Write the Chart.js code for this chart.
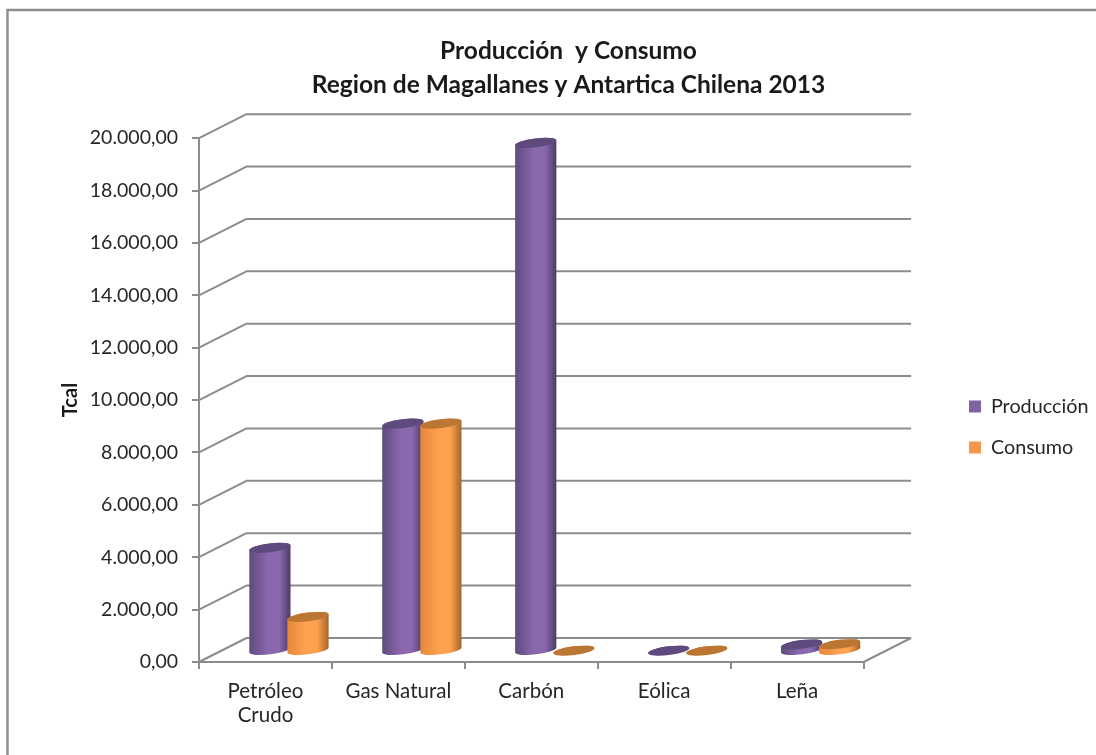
<!DOCTYPE html>
<html lang="es">
<head>
<meta charset="utf-8">
<title>Producción y Consumo</title>
<script src="https://cdn.jsdelivr.net/npm/chart.js@4/dist/chart.umd.min.js"></script>
<style>
  html, body { margin: 0; padding: 0; background: #fff; }
  canvas { display: block; }
</style>
</head>
<body>
<canvas id="chart" width="1096" height="755"></canvas>
<script>
// Energy balance for the region, in Tcal
const categories = [["Petróleo", "Crudo"], "Gas Natural", "Carbón", "Eólica", "Leña"];
const produccion = [3940, 8680, 19400, 10, 250];
const consumo = [1300, 8680, 10, 10, 260];
const tickLabels = ["0,00", "2.000,00", "4.000,00", "6.000,00", "8.000,00", "10.000,00",
                    "12.000,00", "14.000,00", "16.000,00", "18.000,00", "20.000,00"];
const titleLines = ["Producción  y Consumo", "Region de Magallanes y Antartica Chilena 2013"];

const FONT = "Lato";
const TEXT = "#262626";
const RULE = "#8c8c8c";
const DEPTH_X = 47.5, DEPTH_Y = -24;          // depth of the 3D box
const BAR_DX = 23.5, BAR_DY = -11;            // bars stand mid-way along the floor
const CAP_RY = 4.4, CAP_TILT = -7 * Math.PI / 180;

// Shade stops for each series: edge, highlight, far edge, top face
const shades = {
  "#8064a2": ["#5f4a7e", "#8a68ae", "#4c3a66", "#5f4a7e"],
  "#f79646": ["#e5873b", "#ffa14e", "#a4652c", "#bc7634"]
};

// Bars render as tilted cylinders in place of flat rectangles
Chart.BarElement.prototype.draw = function (ctx) {
  const { x, y, base, width } = this.getProps(["x", "y", "base", "width"], false);
  const tones = shades[this.options.backgroundColor.toLowerCase()];
  const r = width / 2;
  const ex = r * Math.cos(CAP_TILT), ey = r * Math.sin(CAP_TILT);

  ctx.save();
  const g = ctx.createLinearGradient(x - r, 0, x + r, 0);
  g.addColorStop(0, tones[0]);
  g.addColorStop(0.45, tones[1]);
  g.addColorStop(0.72, tones[1]);
  g.addColorStop(1, tones[2]);
  ctx.fillStyle = g;
  ctx.beginPath();
  ctx.moveTo(x - ex, y - ey);
  ctx.lineTo(x - ex, base - ey);
  ctx.ellipse(x, base, r, CAP_RY, CAP_TILT, Math.PI, 0, true);
  ctx.lineTo(x + ex, y + ey);
  ctx.ellipse(x, y, r, CAP_RY, CAP_TILT, 0, Math.PI, true);
  ctx.closePath();
  ctx.fill();

  ctx.fillStyle = tones[3];
  ctx.beginPath();
  ctx.ellipse(x, y, r, CAP_RY, CAP_TILT, 0, Math.PI * 2);
  ctx.fill();
  ctx.restore();
};

const box3d = {
  id: "box3d",
  // Title and legend sit at fixed spots next to the plot
  afterLayout(chart) {
    const t = chart.titleBlock;
    const th = t.bottom - t.top;
    t.left = 41; t.right = 1096; t.top = 35; t.bottom = 35 + th;
    const l = chart.legend;
    const pad = l.options.labels.padding;
    const h = l.bottom - l.top;
    l.left = 969 - pad; l.right = l.left + l.width;
    l.top = 427 - h / 2; l.bottom = l.top + h;
  },
  beforeDraw(chart) {
    const { ctx, chartArea: a, scales: { y } } = chart;
    ctx.save();
    ctx.strokeStyle = RULE;

    // outer frame
    ctx.lineWidth = 2.4;
    ctx.beginPath();
    ctx.moveTo(7.5, 755); ctx.lineTo(7.5, 10); ctx.lineTo(1096, 10);
    ctx.stroke();

    // side wall and back wall rules at each tick
    ctx.lineWidth = 2;
    ctx.lineJoin = "round";
    y.ticks.forEach(t => {
      const py = y.getPixelForValue(t.value);
      ctx.beginPath();
      ctx.moveTo(a.left, py);
      ctx.lineTo(a.left + DEPTH_X, py + DEPTH_Y);
      ctx.lineTo(a.right + DEPTH_X, py + DEPTH_Y);
      ctx.stroke();
    });

    // floor edge on the right
    const floor = y.getPixelForValue(0);
    ctx.beginPath();
    ctx.moveTo(a.right, floor);
    ctx.lineTo(a.right + DEPTH_X, floor + DEPTH_Y);
    ctx.stroke();
    ctx.restore();
  },
  // Datasets are painted left to right so each series overlaps the previous one
  beforeDatasetDraw() { return false; },
  afterDatasetsDraw(chart) {
    const { ctx } = chart;
    ctx.save();
    ctx.translate(BAR_DX, BAR_DY);
    chart.getSortedVisibleDatasetMetas().forEach(m => m.controller.draw());
    ctx.restore();
  }
};

new Chart(document.getElementById("chart"), {
  type: "bar",
  data: {
    labels: categories,
    datasets: [
      { label: "Producción", data: produccion, backgroundColor: "#8064A2" },
      { label: "Consumo", data: consumo, backgroundColor: "#F79646" }
    ]
  },
  plugins: [box3d],
  options: {
    responsive: false,
    animation: false,
    events: [],
    categoryPercentage: 0.573,
    barPercentage: 1.09,
    layout: { padding: { top: 72, right: 82, bottom: 0, left: 0 } },
    plugins: {
      title: {
        display: true,
        text: titleLines,
        color: "#1a1a1a",
        font: { family: FONT, size: 24.5, weight: "bold", lineHeight: 1.35 },
        padding: 0
      },
      legend: {
        position: "right",
        labels: {
          color: TEXT,
          font: { family: FONT, size: 19.8, lineHeight: 1.2 },
          boxWidth: 12, boxHeight: 12,
          padding: 21
        }
      },
      tooltip: { enabled: false }
    },
    scales: {
      x: {
        afterFit(s) { s.height = 93; },
        border: { color: RULE, width: 2 },
        grid: { drawOnChartArea: false, color: RULE, lineWidth: 2, tickLength: 7 },
        ticks: { color: TEXT, font: { family: FONT, size: 20.5, lineHeight: 1.17 }, padding: 10, maxRotation: 0 }
      },
      y: {
        min: 0, max: 20000,
        afterFit(s) { s.width = 199; },
        border: { color: RULE, width: 2 },
        grid: { drawOnChartArea: false, color: RULE, lineWidth: 2, tickLength: 7 },
        title: {
          display: true, text: "Tcal", color: "#1a1a1a",
          font: { family: FONT, size: 20, weight: "bold" },
          padding: { top: 59, bottom: 0 }
        },
        ticks: {
          stepSize: 2000, color: TEXT, padding: 14,
          font: { family: FONT, size: 19.5 },
          callback: (v) => tickLabels[v / 2000]
        }
      }
    }
  }
});
</script>
</body>
</html>
